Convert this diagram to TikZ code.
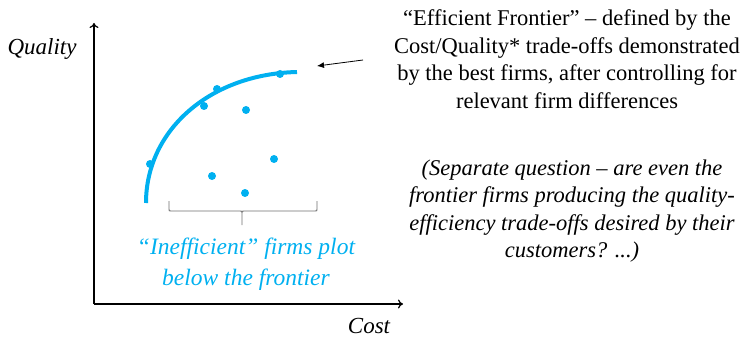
\documentclass[tikz,border=0pt]{standalone}
\usepackage{fontspec}
\setmainfont{Liberation Serif}
\usetikzlibrary{arrows.meta}
\definecolor{frontier}{RGB}{0,176,240}
\definecolor{bracegray}{RGB}{110,110,110}
\tikzset{
  axis/.style={line width=1.5pt, -{To[length=5pt,width=9pt,line width=1.2pt]}},
  firm/.style={circle, fill=frontier, inner sep=0pt, minimum size=8pt},
  note/.style={align=center, inner sep=0pt, font=\fontsize{22.5}{27.5}\selectfont},
  lab/.style={inner sep=0pt, font=\fontsize{23}{27}\selectfont\itshape}
}
\begin{document}
\begin{tikzpicture}[x=1pt,y=-1pt]
\useasboundingbox (0,0) rectangle (753,337);

% axes
\coordinate (origin) at (94,304);
\coordinate (ytop) at (94,23);
\coordinate (xend) at (403,304);
\draw[axis] (origin) -- (ytop);
\draw[axis] (origin) -- (xend);
\node[lab] (ql) at (42,49) {Quality};
\node[lab] (cl) at (369,326) {Cost};

% efficient frontier
\coordinate (fs) at (146,203);
\coordinate (fe) at (297,72);
\draw[frontier, line width=4pt] (fs) .. controls (146,130) and (210,74) .. (fe);

% firms
\foreach \n/\x/\y in {a/150/164, b/204/106, c/217/89, d/280/74,
                     e/246/110, f/274/159, g/212/176, h/245/193}
  \node[firm] (\n) at (\x,\y) {};

% brace over the inefficient region
\coordinate (bl) at (169,201);
\coordinate (br) at (317,201);
\coordinate (bt) at (242,225);
\draw[bracegray, line width=0.9pt]
  (bl) -- (169,209) .. controls (169,211) .. (171,211)
  -- (240,211) .. controls (242,211) .. (242,213) -- (bt)
  (242,213) .. controls (242,211) .. (244,211)
  -- (315,211) .. controls (317,211) .. (317,209) -- (br);

\node[lab, text=frontier, align=center, font=\fontsize{23.5}{30.5}\selectfont\itshape]
  (ineff) at (246,264) {“Inefficient” firms plot\\below the frontier};

% annotation
\node[note] (ef) at (567,59) {“Efficient Frontier” – defined by the\\Cost/Quality* trade-offs demonstrated\\by the best firms, after controlling for\\relevant firm differences};
\coordinate (atail) at (363,60);
\coordinate (ahead) at (317,66);
\draw[line width=0.8pt, -{Latex[length=7pt,width=6pt]}] (atail) -- (ahead);

\node[note, font=\fontsize{22.5}{27.5}\selectfont\itshape] (sq) at (572,211)
  {(Separate question – are even the\\frontier firms producing the quality-\\efficiency trade-offs desired by their\\customers? ...)};
\end{tikzpicture}
\end{document}
